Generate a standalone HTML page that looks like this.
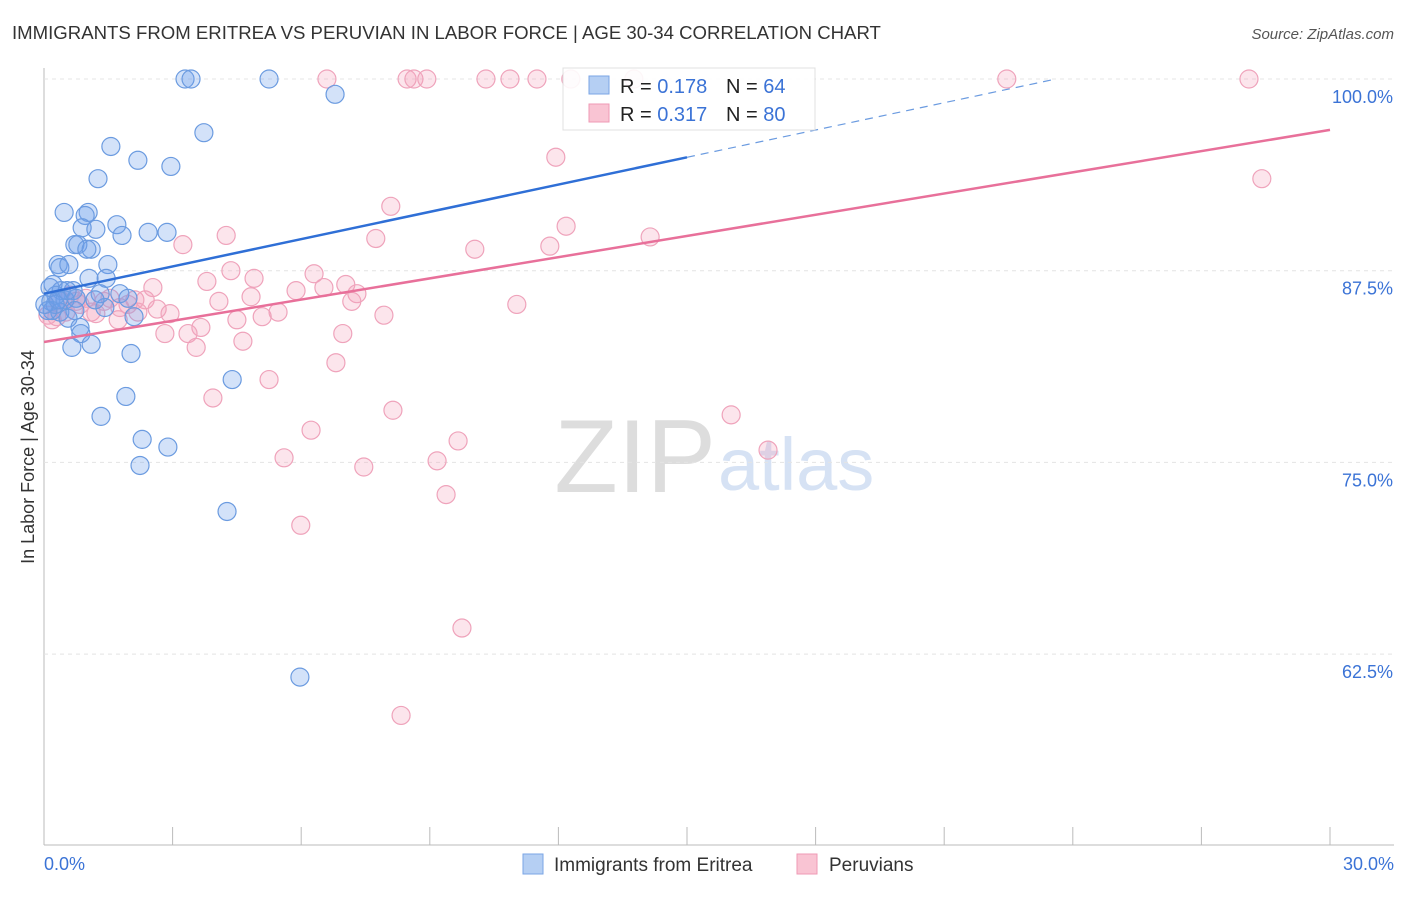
<!DOCTYPE html>
<html><head><meta charset="utf-8"><style>
body{margin:0;background:#fff;font-family:"Liberation Sans",sans-serif}
svg text{font-family:"Liberation Sans",sans-serif}
</style></head><body>
<svg id="c" width="1406" height="892" xmlns="http://www.w3.org/2000/svg">
<text x="12" y="39" font-size="18.6" fill="#333">IMMIGRANTS FROM ERITREA VS PERUVIAN IN LABOR FORCE | AGE 30-34 CORRELATION CHART</text>
<text x="1394" y="39" font-size="15" fill="#555" font-style="italic" text-anchor="end">Source: ZipAtlas.com</text>
<text x="716" y="492" font-size="104" fill="#ddd" text-anchor="end" font-family="Liberation Serif">ZIP</text>
<text x="718" y="490" font-size="74" fill="#d6e2f4">atlas</text>
<text transform="translate(34,457) rotate(-90)" font-size="18" fill="#333" text-anchor="middle">In Labor Force | Age 30-34</text>
<g id="grid"></g><g id="pts"></g><g id="lines"></g>
<g>
<rect x="563" y="68" width="252" height="62" fill="#fff" stroke="#ddd" opacity="0.9"/>
<rect x="589" y="76" width="20" height="18" fill="#b5cff3" stroke="#7aa5e6"/>
<rect x="589" y="104" width="20" height="18" fill="#f9c4d3" stroke="#ef9ab4"/>
<text x="620" y="93" font-size="20" fill="#222">R = <tspan fill="#3b73d6">0.178</tspan></text>
<text x="726" y="93" font-size="20" fill="#222">N = <tspan fill="#3b73d6">64</tspan></text>
<text x="620" y="121" font-size="20" fill="#222">R = <tspan fill="#3b73d6">0.317</tspan></text>
<text x="726" y="121" font-size="20" fill="#222">N = <tspan fill="#3b73d6">80</tspan></text>
</g>
<g>
<rect x="523" y="854" width="20" height="20" fill="#b5cff3" stroke="#7aa5e6"/>
<text x="554" y="871" font-size="19" fill="#333">Immigrants from Eritrea</text>
<rect x="797" y="854" width="20" height="20" fill="#f9c4d3" stroke="#ef9ab4"/>
<text x="829" y="871" font-size="19" fill="#333">Peruvians</text>
</g>
</svg>
<script>
const xTicks=[0,3,6,9,12,15,18,21,24,27,30];
const yTicks=[100,87.5,75,62.5];
const yTickLabels=["100.0%","87.5%","75.0%","62.5%"];
const blueX=[3.29,3.43,5.25,6.79,3.73,1.56,2.19,2.96,1.26,0.47,1.03,0.96,1.70,0.89,1.21,1.82,2.43,2.87,0.72,0.79,1.10,1.00,0.33,0.37,0.58,1.49,1.05,1.45,0.14,0.40,0.28,0.68,1.31,1.77,0.16,0.49,0.75,1.42,1.96,0.19,0.37,0.72,0.56,2.10,0.84,0.86,0.65,1.10,2.03,4.39,1.91,1.33,2.29,2.89,2.24,4.27,5.97,0.26,0.09,0.21,0.54,1.19,0.02,0.33];
const blueY=[100,100,100,99.0,96.5,95.6,94.7,94.3,93.5,91.3,91.3,91.1,90.5,90.3,90.2,89.8,90.0,90.0,89.2,89.2,88.9,88.9,87.9,87.7,87.9,87.9,87.0,87.0,86.4,86.2,85.9,86.2,86.0,86.0,85.5,85.6,85.7,85.1,85.7,84.9,84.8,84.9,84.4,84.5,83.8,83.4,82.5,82.7,82.1,80.4,79.3,78.0,76.5,76.0,74.8,71.8,61.0,85.3,84.9,86.6,86.2,85.6,85.3,85.6];
const pinkX=[6.60,8.47,8.63,8.93,10.31,10.87,11.50,12.29,13.76,22.46,28.11,11.94,28.41,8.09,12.18,4.25,3.24,7.74,10.05,11.80,14.14,4.36,4.90,6.30,7.04,3.80,5.88,6.53,7.30,4.83,7.18,11.03,2.54,4.08,2.36,1.96,1.40,0.98,0.75,2.64,2.19,1.73,1.10,0.51,0.30,5.46,5.09,4.50,2.94,3.66,2.82,3.36,6.97,7.93,4.64,3.55,6.81,5.25,3.94,8.14,16.03,6.23,9.66,16.89,5.60,9.17,7.46,9.38,5.99,9.75,8.33,0.19,0.37,0.61,0.09,1.54,1.21,0.84,2.12,1.77];
const pinkY=[100,100,100,100,100,100,100,100,100,100,100,94.9,93.5,91.7,90.4,89.8,89.2,89.6,88.9,89.1,89.7,87.5,87.0,87.3,86.6,86.8,86.2,86.4,86.0,85.8,85.5,85.3,86.4,85.5,85.6,85.3,85.5,85.7,85.5,85.0,84.8,84.3,84.8,84.8,84.5,84.8,84.5,84.3,84.7,83.8,83.4,83.4,83.4,84.6,82.9,82.5,81.5,80.4,79.2,78.4,78.1,77.1,76.4,75.8,75.3,75.1,74.7,72.9,70.9,64.2,58.5,84.3,85.6,85.9,84.6,85.7,84.7,85.3,85.6,85.1];
const blueTrend=[86.0,0.593];
const pinkTrend=[82.85,0.461];
const NS="http://www.w3.org/2000/svg";
const X=v=>44+v/30*1286, Y=v=>79+(100-v)/12.5*191.7;
function mk(t,a,p){const e=document.createElementNS(NS,t);for(const k in a)e.setAttribute(k,a[k]);p.appendChild(e);return e;}
const grid=document.getElementById('grid');
let ax=mk('line',{x1:44,y1:68,x2:44,y2:845,stroke:'#bbb'},grid);


let bx=mk('line',{x1:44,y1:845,x2:1394,y2:845,stroke:'#bbb'},grid);


yTicks.forEach((t,i)=>{
 const g=mk('line',{x1:44,y1:Y(t),x2:1394,y2:Y(t),stroke:'#e4e4e4','stroke-dasharray':'4,4'},grid);
 
 
 const l=mk('text',{x:1393,y:Y(t)+24,'font-size':18,fill:'#3b73d6','text-anchor':'end'},grid);
 l.textContent=yTickLabels[i];
 
 
});
xTicks.forEach(t=>{
 const k=mk('line',{x1:X(t),y1:827,x2:X(t),y2:845,stroke:'#bbb'},grid);
 
 
});
[[0,'0.0%','start',44],[30,'30.0%','end',1394]].forEach(d=>{
 const l=mk('text',{x:d[3],y:870,'font-size':18,fill:'#3b73d6','text-anchor':d[2]},grid);
 l.textContent=d[1];
 
 
});
const pts=document.getElementById('pts');
pinkX.forEach((v,i)=>{
 const c=mk('circle',{cx:X(v),cy:Y(pinkY[i]),r:9,fill:'rgba(244,160,188,0.28)',stroke:'#efa3bb','stroke-width':1.2},pts);
 
 
});
blueX.forEach((v,i)=>{
 const c=mk('circle',{cx:X(v),cy:Y(blueY[i]),r:9,fill:'rgba(110,160,235,0.3)',stroke:'#6b9be0','stroke-width':1.2},pts);
 
 
});
const lines=document.getElementById('lines');
let b1=mk('line',{x1:X(0),y1:Y(blueTrend[0]),x2:X(15),y2:Y(blueTrend[0]+15*blueTrend[1]),stroke:'#2f6fd6','stroke-width':2.5},lines);


const xe=(100-blueTrend[0])/blueTrend[1];
let b2=mk('line',{x1:X(15),y1:Y(blueTrend[0]+15*blueTrend[1]),x2:X(xe),y2:Y(100),stroke:'#6b9be0','stroke-width':1.2,'stroke-dasharray':'8,6'},lines);


let p1=mk('line',{x1:X(0),y1:Y(pinkTrend[0]),x2:X(30),y2:Y(pinkTrend[0]+30*pinkTrend[1]),stroke:'#e8709a','stroke-width':2.5},lines);


</script>
</body></html>
